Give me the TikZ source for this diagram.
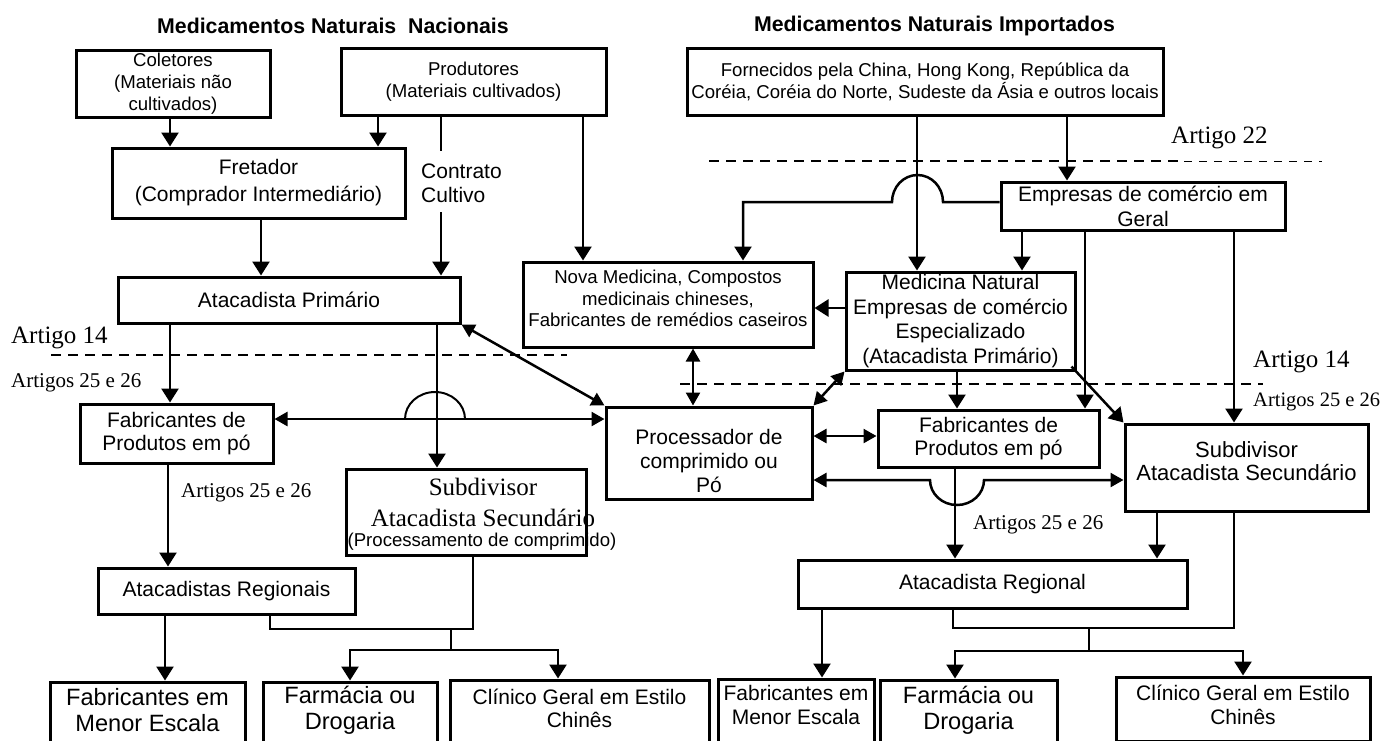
\documentclass[tikz,border=0pt]{standalone}
\usepackage{fontspec}
\setmainfont{Liberation Sans}
\newfontfamily\tms{Liberation Serif}
\usetikzlibrary{arrows.meta}
\newcommand{\lift}[1]{\rule[-#1]{0pt}{0pt}}
\newcommand{\push}[1]{\rule{0pt}{#1}}
\tikzset{
	box/.style 2 args={draw,line width=3pt,inner sep=0pt,align=center,minimum width=#1pt,minimum height=#2pt},
	txt/.style={inner sep=0pt,align=center},
	tmain/.style={font=\fontsize{21}{24}\selectfont},
	tsmall/.style={font=\fontsize{18.6}{22}\selectfont},
	tbig/.style={font=\fontsize{23.6}{26}\selectfont},
	head/.style={txt,font=\bfseries\fontsize{21.3}{24}\selectfont},
	law/.style={txt,anchor=west,font=\tms\fontsize{25}{28}\selectfont},
	lawsm/.style={txt,anchor=west,font=\tms\fontsize{21}{24}\selectfont},
	wire/.style={line width=2.5pt},
	arr/.style={wire,-{Triangle[length=14pt,width=17pt]}},
	darr/.style={wire,{Triangle[length=13pt,width=14pt]}-{Triangle[length=13pt,width=14pt]}},
	hop/.style={line width=2pt},
	lawline/.style={line width=2.8pt,dash pattern=on 10pt off 7pt},
	lawthin/.style={line width=1pt,dash pattern=on 8pt off 7pt}
}

\begin{document}
\begin{tikzpicture}[x=1pt,y=-1pt]
	\useasboundingbox (0,0) rectangle (1386,740);
	\clip (0,0) rectangle (1386,740);

	% titles and law references
	\node [head] (ttlN) at (333,26) {Medicamentos Naturais\ \ Nacionais};
	\node [head] (ttlI) at (934.5,26) {Medicamentos Naturais Importados};
	\node [law] (a22) at (1171,138) {Artigo 22};
	\node [law] (a14L) at (11,338) {Artigo 14};
	\node [lawsm] (a25L) at (11,383) {Artigos 25 e 26};
	\node [lawsm] (a25Lb) at (181,493) {Artigos 25 e 26};
	\node [law] (a14R) at (1253,362) {Artigo 14};
	\node [lawsm,font=\tms\fontsize{20.5}{24}\selectfont] (a25R) at (1253,402) {Artigos 25 e 26};
	\node [lawsm] (a25Rb) at (973,525) {Artigos 25 e 26};

	\draw [lawline] (51,355) -- (567,355);
	\draw [lawline] (680,384) -- (1263,384);
	\draw [lawline] (709,161) -- (1184,161);
	\draw [lawthin] (1184,161) -- (1322,161);

	% boxes
	\node [box={194}{67},tsmall] (colet) at (173,83.5) {Coletores\\(Materiais não\\cultivados)};
	\node [box={265}{67},tsmall] (prod) at (473.5,81.5) {Produtores\\(Materiais cultivados)};
	\node [box={476}{67},tsmall] (forn) at (925,81.5) {Fornecidos pela China, Hong Kong, República da\\Coréia, Coréia do Norte, Sudeste da Ásia e outros locais};
	\node [box={293}{70},font=\fontsize{21}{27}\selectfont] (fret) at (258.5,183) {Fretador\\(Comprador Intermediário)};
	\node [txt,align=left,anchor=west,font=\fontsize{21}{24}\selectfont] (contr) at (421,183) {Contrato\\Cultivo};
	\node [box={342}{46},tmain] (atacP) at (289,300) {Atacadista Primário};
	\node [box={290}{85},font=\fontsize{18.6}{21.5}\selectfont] (nova) at (668,304.5) {Nova Medicina, Compostos\\medicinais chineses,\\Fabricantes de remédios caseiros\lift{12pt}};
	\node [box={284}{48},font=\fontsize{21}{25}\selectfont] (empG) at (1143,206) {Empresas de comércio em\\Geral};
	\node [box={229}{98},font=\fontsize{21}{24.7}\selectfont] (medN) at (960.5,321) {Medicina Natural\\Empresas de comércio\\Especializado\\(Atacadista Primário)};
	\node [box={193}{59},font=\fontsize{21}{23}\selectfont] (fabL) at (176.5,433.5) {Fabricantes de\\Produtos em pó};
	\node [box={206}{92},tmain] (proc) at (709,453) {\push{31pt}Processador de\\comprimido ou\\Pó};
	\node [box={221}{57},font=\fontsize{21}{23}\selectfont] (fabR) at (988.5,438.5) {Fabricantes de\\Produtos em pó};
	\node [box={243}{87},font=\fontsize{22}{23}\selectfont] (subR) at (1246.5,467.5) {Subdivisor\\Atacadista Secundário\lift{12pt}};
	\node [txt,font=\tms\fontsize{25}{31}\selectfont] (subLt) at (483,502) {Subdivisor\\Atacadista Secundário};
	\node [txt,tsmall] (subLp) at (482,542) {(Processamento de comprimido)};
	\node [box={240}{86}] (subL) at (466,512) {};
	\node [box={257}{46},tmain] (regL) at (226.5,591) {Atacadistas Regionais};
	\node [box={389}{48},tmain] (regR) at (992.5,584) {Atacadista Regional};

	\node [box={195}{64},tbig] (menL) at (147.5,714) {Fabricantes em\\Menor Escala\lift{8pt}};
	\node [box={174}{64},tbig] (farL) at (350,714) {Farmácia ou\\Drogaria\lift{13pt}};
	\node [box={259}{64},font=\fontsize{21}{23}\selectfont] (cliL) at (579.5,712) {Clínico Geral em Estilo\\Chinês\lift{7pt}};
	\node [box={156}{64},tmain] (menR) at (796,711) {Fabricantes em\\Menor Escala\lift{12pt}};
	\node [box={177}{64},tbig] (farR) at (968.5,712) {Farmácia ou\\Drogaria\lift{9pt}};
	\node [box={254}{64},tmain] (cliR) at (1243,709) {Clínico Geral em Estilo\\Chinês\lift{8pt}};

	% straight downward flows
	\foreach \a/\b/\x in {colet/fret/170, prod/fret/378, prod/nova/583, fret/atacP/261,
		forn/empG/1067, forn/medN/917, empG/medN/1022, empG/fabR/1085, empG/subR/1234,
		atacP/fabL/170, atacP/subL/437, medN/fabR/957, fabR/regR/955, subR/regR/1157,
		fabL/regL/168, regL/menL/165, regR/menR/822}
		\draw [arr] (\a.south -| \x,0) -- (\b.north -| \x,0);

	% cultivation contract
	\coordinate (cc1) at (441,151);
	\coordinate (cc2) at (441,212);
	\draw [wire] (prod.south -| cc1) -- (cc1);
	\draw [arr] (cc2) -- (atacP.north -| cc2);

	% general trade to new medicine, jumping the import line
	\draw [arr] (empG.west |- 0,202) -- (943,202) arc[start angle=0,end angle=180,x radius=25.5pt,y radius=27pt] -- (743,202) -- (nova.north -| 743,0);
	\draw [arr] (medN.west |- 0,308) -- (nova.east |- 0,308);

	% exchanges with the processor
	\draw [darr] (atacP.south east) -- (proc.north west);
	\draw [darr] (fabL.east |- 0,419) -- (proc.west |- 0,419);
	\draw [hop] (405,419) arc[start angle=180,end angle=0,x radius=30pt,y radius=27pt];
	\draw [darr] (nova.south -| 693,0) -- (proc.north -| 693,0);
	\draw [darr] (medN.south west) -- (proc.north east);
	\draw [darr] (proc.east |- 0,436) -- (fabR.west |- 0,436);
	\draw [darr] (proc.east |- 0,480) -- (930,480) arc[start angle=180,end angle=360,x radius=27pt,y radius=25pt] -- (subR.west |- 0,480);
	\draw [arr] ([xshift=-5pt,yshift=5pt]medN.south east) -- (subR.north west);

	% retail branches
	\coordinate (jL) at (451,629);
	\coordinate (jLb) at (451,650);
	\draw [wire] (regL.south -| 270,0) -- (270,629) -- (473,629) -- (subL.south -| 473,0);
	\draw [wire] (jL) -- (jLb);
	\draw [arr] (jLb) -| (farL.north -| 350,0);
	\draw [arr] (jLb) -| (cliL.north -| 558,0);

	\coordinate (jR) at (1089,628);
	\coordinate (jRb) at (1089,651);
	\draw [wire] (regR.south -| 953,0) -- (953,628) -- (1234,628) -- (subR.south -| 1234,0);
	\draw [wire] (jR) -- (jRb);
	\draw [arr] (jRb) -| (farR.north -| 955,0);
	\draw [arr] (jRb) -| (cliR.north -| 1243,0);
\end{tikzpicture}
\end{document}
